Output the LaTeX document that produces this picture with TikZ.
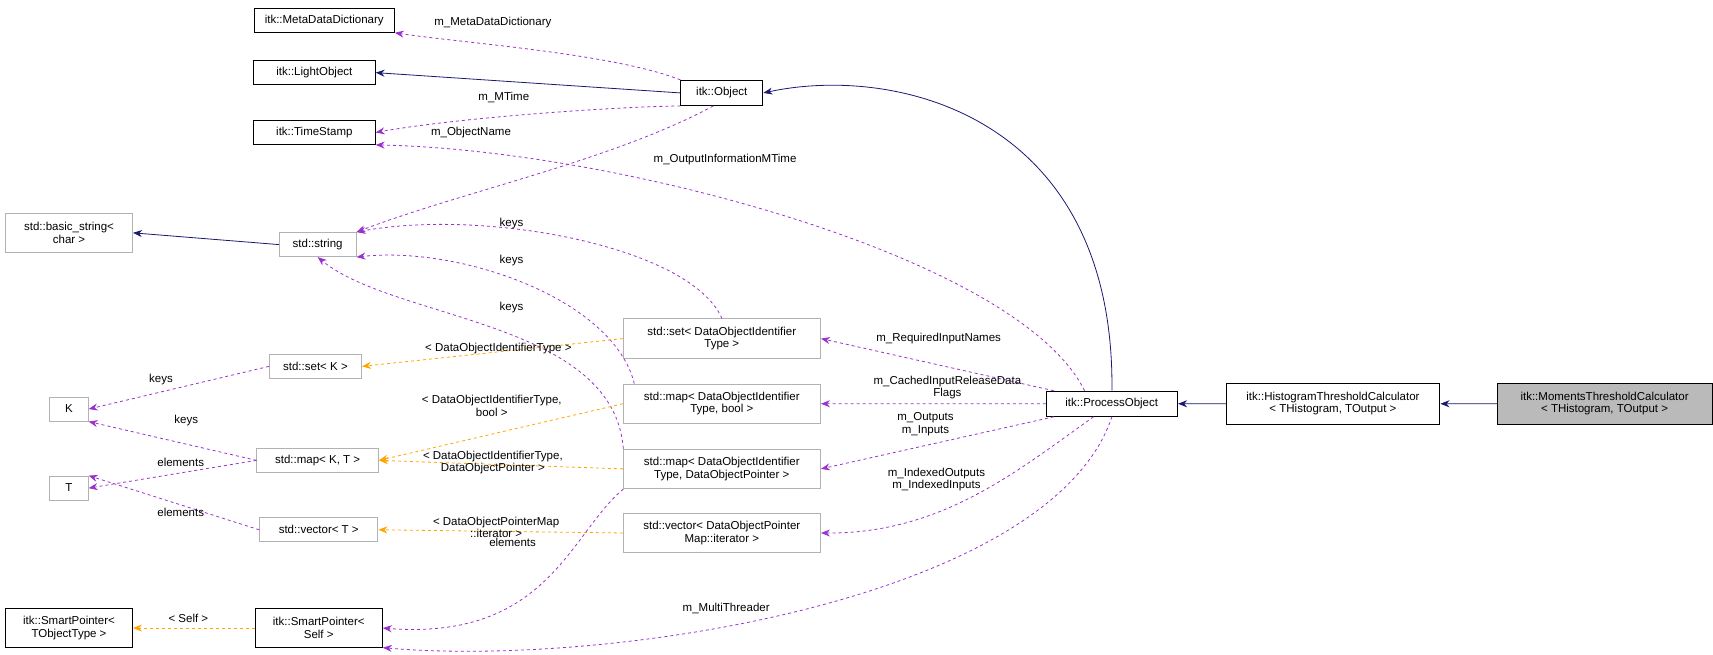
\documentclass[tikz,border=0pt]{standalone}
\usepackage{fontspec}
\setmainfont{Liberation Sans}
\usetikzlibrary{arrows.meta}
\definecolor{navy}{RGB}{25,25,112}
\definecolor{orchid}{RGB}{153,50,204}
\definecolor{amber}{RGB}{255,165,0}
\begin{document}
\begin{tikzpicture}[x=1pt, y=-0.975pt, scale=1.095,
  every node/.style = {font=\fontsize{10.5}{11.5}\selectfont, inner sep=1pt, align=center, transform shape},
  cls/.style = {draw=black, fill=white, line width=0.8pt},
  ext/.style = {draw=black!30, fill=white, line width=0.8pt},
  lbl/.style = {fill=none},
  inh/.style = {navy, line width=0.8pt, -{Stealth[length=9pt,width=7pt]}},
  use/.style = {orchid, dashed, line width=0.8pt, -{Stealth[length=9pt,width=7pt]}},
  tpl/.style = {amber, dashed, line width=0.8pt, -{Stealth[length=9pt,width=7pt]}}]
\useasboundingbox (0,0) rectangle (1564,613);

%Classes on the left
\node[cls, minimum width=128pt, minimum height=22pt] (mdd) at (296,19) {itk::MetaDataDictionary};
\node[cls, minimum width=111pt, minimum height=22pt] (light) at (287,68) {itk::LightObject};
\node[cls, minimum width=111pt, minimum height=22pt] (stamp) at (287,124) {itk::TimeStamp};
\node[cls, minimum width=75pt, minimum height=23pt] (obj) at (659,87) {itk::Object};
\node[ext, minimum width=116pt, minimum height=35pt] (bstr) at (63,218) {std::basic\_string\textless\\char \textgreater};
\node[ext, minimum width=70pt, minimum height=22pt] (str) at (290,229) {std::string};
\node[ext, minimum width=84pt, minimum height=22pt] (setk) at (288,343) {std::set\textless{} K \textgreater};
\node[ext, minimum width=35pt, minimum height=22pt] (k) at (63,383) {K};
\node[ext, minimum width=111pt, minimum height=22pt] (mapkt) at (290,431) {std::map\textless{} K, T \textgreater};
\node[ext, minimum width=35pt, minimum height=22pt] (t) at (63,457) {T};
\node[ext, minimum width=108pt, minimum height=22pt] (vect) at (291,496) {std::vector\textless{} T \textgreater};
\node[cls, minimum width=116pt, minimum height=35pt] (sptro) at (63,588) {itk::SmartPointer\textless\\TObjectType \textgreater};
\node[cls, minimum width=116pt, minimum height=35pt] (sptrs) at (291,588) {itk::SmartPointer\textless\\Self \textgreater};

%Instantiations in the middle
\node[ext, minimum width=180pt, minimum height=36pt] (setid) at (659,317) {std::set\textless{} DataObjectIdentifier\\Type \textgreater};
\node[ext, minimum width=180pt, minimum height=36pt] (mapbool) at (659,378) {std::map\textless{} DataObjectIdentifier\\Type, bool \textgreater};
\node[ext, minimum width=180pt, minimum height=36pt] (mapptr) at (659,439) {std::map\textless{} DataObjectIdentifier\\Type, DataObjectPointer \textgreater};
\node[ext, minimum width=180pt, minimum height=36pt] (vecptr) at (659,499) {std::vector\textless{} DataObjectPointer\\Map::iterator \textgreater};

%Classes on the right
\node[cls, minimum width=120pt, minimum height=23pt] (proc) at (1015,378) {itk::ProcessObject};
\node[cls, minimum width=195pt, minimum height=37pt] (hist) at (1217,378) {itk::HistogramThresholdCalculator\\\textless{} THistogram, TOutput \textgreater};
\node[cls, fill=black!27, minimum width=196pt, minimum height=37pt] (mom) at (1465,378) {itk::MomentsThresholdCalculator\\\textless{} THistogram, TOutput \textgreater};

%Inheritance
\draw[inh] (mom) -- (hist);
\draw[inh] (hist) -- (proc);
\draw[inh] (proc.north) .. controls (1018,110) and (820,60) .. (obj.east);
\draw[inh] (obj.west) -- (light.east);
\draw[inh] (str.west) -- (bstr.east);

%Members
\draw[use] (obj.north west) .. controls (560,50) and (420,40) .. (mdd.south east);
\draw[use] (obj.south west) .. controls (560,100) and (420,110) .. (stamp.east);
\draw[use] ([xshift=-8pt]obj.south) .. controls (560,150) and (420,180) .. (str.north east);
\draw[use] ([xshift=-25pt]proc.north) .. controls (930,240) and (560,140) .. (stamp.south east);
\draw[use] (proc) -- (setid.east);
\draw[use] (proc) -- (mapbool.east);
\draw[use] (proc) -- (mapptr.east);
\draw[use] (proc) .. controls (930,440) and (860,500) .. (vecptr.east);
\draw[use] (proc.south) .. controls (960,560) and (560,625) .. (sptrs.south east);
\draw[use] (setid.north) .. controls (630,230) and (440,195) .. (str.north east);
\draw[use] ([xshift=-80pt]mapbool.north) .. controls (560,280) and (420,230) .. (str.south east);
\draw[use] ([xshift=-90pt]mapptr.north) .. controls (560,300) and (360,300) .. (str.south);
\draw[use] ([xshift=-90pt]mapptr.south) .. controls (520,500) and (500,600) .. (sptrs.east);
\draw[use] (setk.west) -- (k.east);
\draw[use] (mapkt.west) -- (k.south east);
\draw[use] (mapkt.west) -- (t.east);
\draw[use] (vect.west) -- (t.north east);

%Template arguments
\draw[tpl] (setid.west) -- (setk.east);
\draw[tpl] (mapbool.west) -- (mapkt.east);
\draw[tpl] (mapptr.west) -- (mapkt.east);
\draw[tpl] (vecptr.west) -- (vect.east);
\draw[tpl] (sptrs.west) -- (sptro.east);

%Labels
\node[lbl] (lmdd) at (450,21) {m\_MetaDataDictionary};
\node[lbl] (lmtime) at (460,91) {m\_MTime};
\node[lbl] (lname) at (430,124) {m\_ObjectName};
\node[lbl] (loutinfo) at (662,149) {m\_OutputInformationMTime};
\node[lbl] (lreq) at (857,317) {m\_RequiredInputNames};
\node[lbl] (lcached) at (865,363) {m\_CachedInputReleaseData\\Flags};
\node[lbl] (lio) at (845,397) {m\_Outputs\\m\_Inputs};
\node[lbl] (lidx) at (855,449) {m\_IndexedOutputs\\m\_IndexedInputs};
\node[lbl] (lmt) at (663,570) {m\_MultiThreader};
\node[lbl] (lkeys1) at (467,209) {keys};
\node[lbl] (lkeys2) at (467,244) {keys};
\node[lbl] (lkeys3) at (467,288) {keys};
\node[lbl] (lkeys4) at (147,355) {keys};
\node[lbl] (lkeys5) at (170,394) {keys};
\node[lbl] (lelem1) at (165,433) {elements};
\node[lbl] (lelem2) at (165,480) {elements};
\node[lbl] (lelem3) at (468,508) {elements};
\node[lbl] (ltset) at (455,326) {\textless{} DataObjectIdentifierType \textgreater};
\node[lbl] (ltbool) at (449,380) {\textless{} DataObjectIdentifierType,\\bool \textgreater};
\node[lbl] (ltptr) at (450,433) {\textless{} DataObjectIdentifierType,\\DataObjectPointer \textgreater};
\node[lbl] (ltvec) at (453,494) {\textless{} DataObjectPointerMap\\::iterator \textgreater};
\node[lbl] (ltself) at (172,579) {\textless{} Self \textgreater};
\end{tikzpicture}
\end{document}
